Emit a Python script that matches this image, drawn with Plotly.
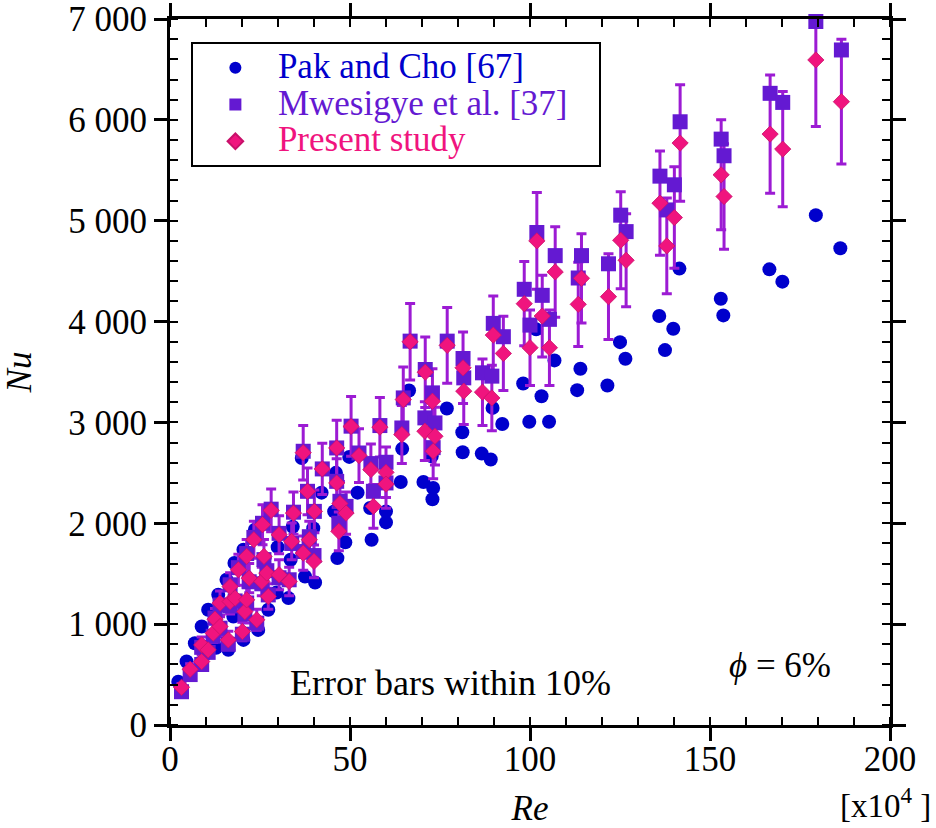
import plotly.graph_objects as go

# ---------------- data ----------------
re_pak = [2.3, 4.6, 6.9, 8.8, 9.7, 10.6, 12.8, 13.4, 15.7, 16.2, 17.6, 17.9, 20.4, 20.4, 23.6,
          24.5, 27.3, 29.6, 29.9, 32.9, 33.5, 34.1, 36.6, 37.5, 39.8, 40.3, 42.1, 45.6, 46.1, 46.5,
          48.7, 49.8, 52.1, 55.6, 56.0, 60.0, 60.0, 64.1, 64.5, 66.4, 70.4, 72.7, 72.9, 73.1, 76.9,
          81.2, 81.3, 86.6, 89.1, 89.6, 92.3, 98.1, 99.8, 101.7, 103.2, 105.3, 106.8, 113.1, 114.0,
          121.5, 125.0, 126.5, 135.9, 137.5, 139.8, 141.5, 153.0, 153.7, 166.5, 170.1, 179.4, 186.2]
nu_pak = [430, 629, 811, 976, 700, 1142, 765, 1291, 1440, 745, 1075, 1606, 1738, 844, 1936,
          943, 1142, 1314, 1764, 1258, 1639, 1966, 2648, 1473, 1952, 1413, 2304, 2118, 2500, 1655,
          1811, 2658, 2304, 2152, 1837, 2118, 2009, 2409, 2738, 3317, 2409, 2664, 2239, 2350, 3138,
          2903, 2704, 2691, 2632, 3144, 2985, 3386, 3006, 3923, 3260, 3006, 3615, 3320, 3532,
          3366, 3796, 3631, 4055, 3717, 3929, 4525, 4227, 4061, 4518, 4396, 5055, 4727]

# Re shared by Mwesigye et al. and present study
re_ps = [3.2, 5.6, 8.8, 8.8, 10.6, 12.0, 12.5, 13.9, 13.9, 16.2, 16.7, 16.7, 18.1, 19.0, 20.1,
         20.8, 21.3, 21.3, 22.0, 23.3, 24.1, 25.5, 25.7, 26.1, 26.9, 27.3, 28.1, 30.3, 30.3, 33.1,
         33.8, 34.3, 37.0, 37.0, 38.2, 38.7, 40.0, 40.1, 42.3, 46.3, 46.3, 46.9, 47.2, 48.9, 50.3,
         52.5, 55.8, 56.5, 58.3, 60.0, 60.0, 64.4, 64.8, 66.7, 70.8, 70.9, 72.9, 73.1, 73.6, 77.0,
         81.4, 81.6, 86.8, 89.4, 89.8, 92.6, 98.4, 100.0, 101.9, 103.4, 105.4, 107.0, 113.4, 114.3,
         121.8, 125.2, 126.7, 136.1, 138.0, 140.1, 141.7, 153.1, 153.9, 166.7, 170.2, 179.4, 186.5]
nu_ps = [374, 552, 629, 794, 745, 910, 1049, 976, 1208, 844, 1224, 1373, 1257, 1539, 927,
         1125, 1241, 1672, 1456, 1837, 1043, 1423, 1986, 1672, 1506, 1274, 2128, 1887, 1490, 1423,
         1820, 2101, 2700, 1704, 2317, 1837, 1622, 2118, 2539, 2747, 2400, 1920, 2195, 2101, 2960,
         2671, 2532, 2168, 2953, 2505, 2388, 2880, 3227, 3800, 2913, 3498, 3210, 2714, 2863, 3764,
         3542, 3310, 3300, 3243, 3866, 3684, 4177, 3741, 4800, 4055, 3741, 4492, 4171, 4429,
         4247, 4806, 4608, 5174, 4750, 5031, 5770, 5455, 5240, 5859, 5710, 6594, 6180]
nu_mw = [330, 500, 600, 770, 720, 880, 1060, 960, 1190, 800, 1180, 1390, 1230, 1560, 900,
         1100, 1210, 1700, 1420, 1860, 1010, 1400, 2000, 1640, 1530, 1290, 2140, 1900, 1460, 1440,
         1800, 2110, 2714, 1720, 2317, 1867, 1680, 2118, 2539, 2747, 2416, 2000, 2218, 2168, 2963,
         2697, 2592, 2317, 2969, 2605, 2400, 2945, 3243, 3806, 3045, 3525, 3293, 2750, 2995, 3806,
         3634, 3442, 3492, 3459, 3982, 3850, 4320, 3965, 4883, 4260, 4022, 4654, 4432, 4654,
         4573, 5055, 4892, 5442, 5107, 5356, 5981, 5809, 5644, 6263, 6173, 6975, 6693]

err_pct = 10

x_tickvals = [0, 50, 100, 150, 200]
x_ticktext = ["0", "50", "100", "150", "200"]
y_tickvals = [0, 1000, 2000, 3000, 4000, 5000, 6000, 7000]
y_ticktext = ["0", "1 000", "2 000", "3 000", "4 000", "5 000", "6 000", "7 000"]

# ---------------- style ----------------
FONT = "Liberation Serif, Times New Roman, serif"
C_PAK = "#0000CC"
C_MW = "#6419D2"
C_PS = "#F0147E"
C_ERR = "#9C1BD3"
NB = "\u00a0"


def big(s, color, pad=0):
    return f'<span style="font-size:35px;color:{color}">{s}{NB * pad}</span>'


fig = go.Figure()

fig.add_trace(go.Scatter(
    x=re_pak, y=nu_pak, mode="markers", name=big("Pak and Cho [67]", C_PAK),
    marker=dict(symbol="circle", size=14, color=C_PAK, line=dict(width=0)),
))

# error bars (drawn beneath the squares and diamonds)
fig.add_trace(go.Scatter(
    x=re_ps, y=nu_ps, mode="markers", showlegend=False, hoverinfo="skip",
    marker=dict(size=1, color="rgba(0,0,0,0)"),
    error_y=dict(type="percent", value=err_pct, color=C_ERR, thickness=3, width=5),
))

fig.add_trace(go.Scatter(
    x=re_ps, y=nu_mw, mode="markers", name=big("Mwesigye et al. [37]", C_MW, pad=3),
    cliponaxis=False,
    marker=dict(symbol="square", size=15, color=C_MW, line=dict(width=0)),
))

fig.add_trace(go.Scatter(
    x=re_ps, y=nu_ps, mode="markers", name=big("Present study", C_PS), cliponaxis=False,
    marker=dict(symbol="diamond", size=12.5, color=C_PS, line=dict(width=0.8, color="#C8106A")),
))

axis_common = dict(
    showline=True, linewidth=3, linecolor="black", mirror="ticks",
    ticks="outside", ticklen=13, tickwidth=2.5, tickcolor="black",
    showgrid=False, zeroline=False, automargin=False,
    tickfont=dict(family=FONT, size=35, color="black"),
)

fig.update_xaxes(
    range=[0, 200], tickvals=x_tickvals, ticktext=x_ticktext, ticklabelstandoff=-12,
    minor=dict(dtick=10, ticks="inside", ticklen=8, tickwidth=2, tickcolor="black", showgrid=False),
    title=dict(text="<i>Re</i>", font=dict(family=FONT, size=35, color="black"), standoff=28),
    **axis_common,
)
fig.update_yaxes(
    range=[0, 7000], tickvals=y_tickvals, ticktext=y_ticktext,
    minor=dict(dtick=200, ticks="inside", ticklen=8, tickwidth=2, tickcolor="black", showgrid=False),
    title=dict(text="<i>Nu</i>", font=dict(family=FONT, size=35, color="black"), standoff=30),
    **axis_common,
)

fig.add_annotation(
    x=77.8, y=417, xref="x", yref="y", text="Error bars within 10%", showarrow=False,
    font=dict(family=FONT, size=36, color="black"),
)
fig.add_annotation(
    x=169.5, y=586, xref="x", yref="y", text="<i>ϕ</i> = 6%", showarrow=False,
    font=dict(family=FONT, size=35, color="black"),
)
fig.add_annotation(
    x=1.06, y=-0.11, xref="paper", yref="paper", text="[x10<sup>4</sup> ]", showarrow=False,
    xanchor="right", yanchor="middle",
    font=dict(family=FONT, size=33, color="black"),
)

fig.update_layout(
    width=936, height=828,
    margin=dict(l=170, r=46, t=19, b=103, autoexpand=False),
    paper_bgcolor="white", plot_bgcolor="white",
    font=dict(family=FONT, color="black"),
    legend=dict(
        x=0.029, y=0.967, xanchor="left", yanchor="top",
        bgcolor="white", bordercolor="black", borderwidth=2,
        font=dict(family=FONT, size=26),
        itemsizing="constant", itemwidth=75,
    ),
    showlegend=True,
)

fig.write_html("out.html")
